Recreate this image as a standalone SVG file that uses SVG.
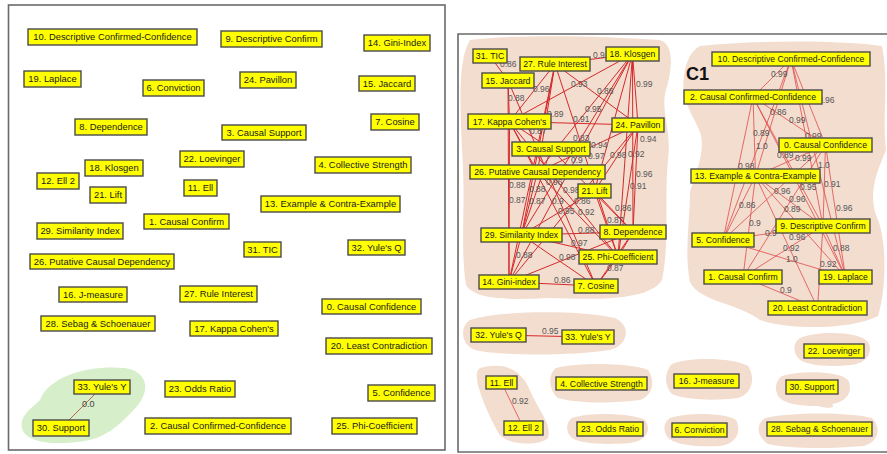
<svg xmlns="http://www.w3.org/2000/svg" width="887" height="454" viewBox="0 0 887 454">
<style>
.frame{fill:none;stroke:#6a6a6a;stroke-width:1.6}
.blob{fill:#f3ddcf}
.gblob{fill:#d6eec9}
.nb rect{fill:#ffff00;stroke:#4a4a4a;stroke-width:1.4}
.nl text{font-family:"Liberation Sans",Arial,sans-serif;font-size:9.4px;fill:#1a1a1a;text-anchor:middle}
.nr text{font-family:"Liberation Sans",Arial,sans-serif;font-size:8.7px;fill:#1a1a1a;text-anchor:middle}
.e1 line{stroke:#d42a2a;stroke-width:1}
.e2 line{stroke:#e04a4a;stroke-width:0.8}
.el text{font-family:"Liberation Sans",Arial,sans-serif;font-size:8.5px;fill:#555}
.c1{font-family:"Liberation Sans",Arial,sans-serif;font-size:18px;font-weight:bold;fill:#111}
</style>
<rect x="0" y="0" width="887" height="454" fill="#ffffff"/>
<!-- panel frames -->
<rect class="frame" x="8.5" y="5" width="436.5" height="445"/>
<path class="frame" d="M887 34 H458 V452 H887"/>
<!-- blobs -->
<path class="gblob" d="M40 400 C50 375 90 365 125 368 C148 372 150 390 138 405 C125 420 110 435 90 440 C60 446 25 444 22 428 C20 415 30 410 40 400 Z"/>
<path class="blob" d="M470 40 C520 34 600 36 660 40 C675 45 672 70 666 90 C660 110 672 130 668 160 C664 200 670 240 662 280 C650 300 600 300 550 298 C510 300 475 300 466 285 C460 250 466 200 462 150 C460 100 458 60 470 40 Z"/>
<path class="blob" d="M700 46 C760 40 840 40 882 46 C889 80 882 120 886 150 C878 170 868 190 876 215 C888 240 886 290 878 316 C850 330 790 330 760 320 C735 302 700 302 690 282 C684 252 690 222 690 192 C696 172 706 152 700 132 C694 116 680 100 684 76 C686 60 692 50 700 46 Z"/>
<path class="blob" d="M470 320 C500 310 580 310 615 318 C632 326 628 345 610 350 C570 356 500 356 475 350 C460 344 460 326 470 320 Z"/>
<path class="blob" d="M800 338 C820 330 860 332 868 342 C874 352 866 364 850 365 C830 367 805 366 798 358 C792 350 794 342 800 338 Z"/>
<path class="blob" d="M480 368 C505 362 522 368 532 395 C540 412 552 425 548 438 C540 446 508 446 499 434 C490 418 482 400 478 385 C476 376 476 370 480 368 Z"/>
<path class="blob" d="M556 368 C580 362 630 363 648 370 C656 382 652 396 640 400 C610 404 575 403 558 398 C548 390 548 374 556 368 Z"/>
<path class="blob" d="M672 364 C690 356 735 358 748 366 C756 378 752 394 738 398 C715 401 685 400 672 394 C664 386 664 372 672 364 Z"/>
<path class="blob" d="M782 376 C800 370 840 371 848 380 C854 392 846 402 832 404 C836 408 828 409 818 406 C800 406 784 404 778 396 C774 388 776 380 782 376 Z"/>
<path class="blob" d="M572 418 C590 412 630 413 645 420 C652 430 646 441 630 443 C605 445 582 444 572 438 C565 432 566 422 572 418 Z"/>
<path class="blob" d="M670 418 C690 412 725 413 736 420 C742 432 736 444 720 446 C700 447 678 446 668 438 C662 430 664 422 670 418 Z"/>
<path class="blob" d="M765 418 C790 412 850 412 872 418 C882 428 878 442 864 446 C830 449 790 449 768 444 C756 436 756 424 765 418 Z"/>
<!-- connectors -->
<g id="connectors">
<g class="e0"><line x1="102" y1="387" x2="61" y2="428" stroke="#b0583e" stroke-width="0.9"/></g>
<g class="e1">
<line x1="490" y1="56" x2="508" y2="80.5"/>
<line x1="555" y1="64" x2="632.5" y2="54"/>
<line x1="555" y1="64" x2="509.5" y2="121.5"/>
<line x1="632.5" y1="54" x2="509.5" y2="121.5"/>
<line x1="555" y1="64" x2="638" y2="125"/>
<line x1="632.5" y1="54" x2="638" y2="125"/>
<line x1="508" y1="80.5" x2="509.5" y2="121.5"/>
<line x1="632.5" y1="54" x2="537.5" y2="172"/>
<line x1="555" y1="64" x2="537.5" y2="172"/>
<line x1="509.5" y1="121.5" x2="638" y2="125"/>
<line x1="509.5" y1="121.5" x2="551" y2="149"/>
<line x1="632.5" y1="54" x2="521.5" y2="235"/>
<line x1="638" y1="125" x2="537.5" y2="172"/>
<line x1="632.5" y1="54" x2="633" y2="232"/>
<line x1="555" y1="64" x2="618" y2="257"/>
<line x1="638" y1="125" x2="594.5" y2="191"/>
<line x1="632.5" y1="54" x2="618" y2="257"/>
<line x1="638" y1="125" x2="633" y2="232"/>
<line x1="638" y1="125" x2="618" y2="257"/>
<line x1="632.5" y1="54" x2="509" y2="282"/>
<line x1="508" y1="80.5" x2="596" y2="286"/>
<line x1="509.5" y1="121.5" x2="618" y2="257"/>
<line x1="551" y1="149" x2="521.5" y2="235"/>
<line x1="509.5" y1="121.5" x2="509" y2="282"/>
<line x1="508" y1="80.5" x2="509" y2="282"/>
<line x1="537.5" y1="172" x2="521.5" y2="235"/>
<line x1="509.5" y1="121.5" x2="596" y2="286"/>
<line x1="638" y1="125" x2="509" y2="282"/>
<line x1="594.5" y1="191" x2="521.5" y2="235"/>
<line x1="537.5" y1="172" x2="618" y2="257"/>
<line x1="594.5" y1="191" x2="633" y2="232"/>
<line x1="594.5" y1="191" x2="618" y2="257"/>
<line x1="521.5" y1="235" x2="633" y2="232"/>
<line x1="521.5" y1="235" x2="618" y2="257"/>
<line x1="521.5" y1="235" x2="509" y2="282"/>
<line x1="521.5" y1="235" x2="596" y2="286"/>
<line x1="618" y1="257" x2="596" y2="286"/>
<line x1="509" y1="282" x2="596" y2="286"/>
<line x1="509" y1="282" x2="633" y2="232"/>
<line x1="509.5" y1="121.5" x2="537.5" y2="172"/>
<line x1="555" y1="64" x2="521.5" y2="235"/>
<line x1="555" y1="64" x2="509" y2="282"/>
<line x1="632.5" y1="54" x2="594.5" y2="191"/>
<line x1="551" y1="149" x2="633" y2="232"/>
<line x1="618" y1="257" x2="633" y2="232"/>
<line x1="633" y1="232" x2="596" y2="286"/>
<line x1="498" y1="335" x2="588" y2="337"/>
</g>
<g class="e2">
<line x1="791" y1="59" x2="753" y2="97"/>
<line x1="791" y1="59" x2="825.5" y2="145"/>
<line x1="791" y1="59" x2="755.5" y2="176"/>
<line x1="753" y1="97" x2="825.5" y2="145"/>
<line x1="753" y1="97" x2="755.5" y2="176"/>
<line x1="791" y1="59" x2="723" y2="240"/>
<line x1="791" y1="59" x2="823" y2="226"/>
<line x1="825.5" y1="145" x2="755.5" y2="176"/>
<line x1="753" y1="97" x2="823" y2="226"/>
<line x1="791" y1="59" x2="845.5" y2="277"/>
<line x1="753" y1="97" x2="723" y2="240"/>
<line x1="825.5" y1="145" x2="823" y2="226"/>
<line x1="753" y1="97" x2="845.5" y2="277"/>
<line x1="825.5" y1="145" x2="723" y2="240"/>
<line x1="755.5" y1="176" x2="823" y2="226"/>
<line x1="755.5" y1="176" x2="723" y2="240"/>
<line x1="825.5" y1="145" x2="743" y2="277"/>
<line x1="825.5" y1="145" x2="845.5" y2="277"/>
<line x1="755.5" y1="176" x2="743" y2="277"/>
<line x1="723" y1="240" x2="823" y2="226"/>
<line x1="755.5" y1="176" x2="817.5" y2="308"/>
<line x1="823" y1="226" x2="743" y2="277"/>
<line x1="723" y1="240" x2="845.5" y2="277"/>
<line x1="823" y1="226" x2="845.5" y2="277"/>
<line x1="823" y1="226" x2="817.5" y2="308"/>
<line x1="743" y1="277" x2="817.5" y2="308"/>
<line x1="755.5" y1="176" x2="845.5" y2="277"/>
<line x1="501.5" y1="382.5" x2="523.5" y2="428"/>
</g>
<g class="el">
<text x="82" y="407" style="font-size:9px;fill:#444">0.0</text>
<text x="500" y="67">0.86</text>
<text x="593" y="58">0.9</text>
<text x="533" y="92">0.96</text>
<text x="571" y="87">0.93</text>
<text x="597" y="94">0.86</text>
<text x="636" y="87">0.99</text>
<text x="508" y="101">0.88</text>
<text x="585" y="112">0.95</text>
<text x="547" y="117">0.89</text>
<text x="573" y="122">0.91</text>
<text x="530" y="134">0.87</text>
<text x="573" y="141">0.83</text>
<text x="591" y="148">0.94</text>
<text x="640" y="142">0.94</text>
<text x="588" y="159">0.97</text>
<text x="610" y="158">0.98</text>
<text x="628" y="157">0.92</text>
<text x="636" y="177">0.96</text>
<text x="630" y="189">0.91</text>
<text x="571" y="163">0.9</text>
<text x="546" y="185">0.96</text>
<text x="563" y="193">0.98</text>
<text x="529" y="192">0.88</text>
<text x="509" y="203">0.87</text>
<text x="509" y="188">0.88</text>
<text x="529" y="204">0.87</text>
<text x="552" y="204">0.9</text>
<text x="574" y="204">0.86</text>
<text x="558" y="214">0.95</text>
<text x="578" y="215">0.92</text>
<text x="615" y="211">0.86</text>
<text x="607" y="223">0.87</text>
<text x="578" y="233">0.88</text>
<text x="571" y="246">0.97</text>
<text x="516" y="258">0.88</text>
<text x="559" y="260">0.98</text>
<text x="607" y="271">0.87</text>
<text x="554" y="283">0.86</text>
<text x="542" y="334">0.95</text>
<text x="512" y="404">0.92</text>
<text x="771" y="77">0.99</text>
<text x="818" y="103">0.96</text>
<text x="770" y="115">0.86</text>
<text x="789" y="123">0.99</text>
<text x="753" y="136">0.89</text>
<text x="756" y="149">1.0</text>
<text x="805" y="139">0.99</text>
<text x="777" y="158">0.89</text>
<text x="795" y="161">0.99</text>
<text x="818" y="168">1.0</text>
<text x="738" y="169">0.98</text>
<text x="824" y="187">0.91</text>
<text x="800" y="190">0.95</text>
<text x="774" y="194">0.96</text>
<text x="789" y="202">0.96</text>
<text x="739" y="208">0.86</text>
<text x="784" y="212">0.89</text>
<text x="836" y="211">0.96</text>
<text x="749" y="226">0.9</text>
<text x="765" y="236">0.9</text>
<text x="789" y="240">0.96</text>
<text x="783" y="251">0.92</text>
<text x="786" y="262">1.0</text>
<text x="833" y="251">0.88</text>
<text x="820" y="267">0.92</text>
<text x="780" y="293">0.9</text>
</g>
</g>
<!-- left panel nodes -->
<g class="nb nl">
<g id="L10"><rect x="28" y="29" width="169" height="16"/><text x="112.5" y="40.3">10. Descriptive Confirmed-Confidence</text></g>
<g id="L9"><rect x="221" y="31" width="101" height="16"/><text x="271.5" y="42.3">9. Descriptive Confirm</text></g>
<g id="L14"><rect x="364" y="35" width="66" height="16"/><text x="397" y="46.3">14. Gini-Index</text></g>
<g id="L19"><rect x="24" y="71" width="57" height="16"/><text x="52.5" y="82.3">19. Laplace</text></g>
<g id="L6"><rect x="143" y="80" width="61" height="16"/><text x="173.5" y="91.3">6. Conviction</text></g>
<g id="L24"><rect x="240" y="72" width="56" height="16"/><text x="268" y="83.3">24. Pavillon</text></g>
<g id="L15"><rect x="359" y="76" width="56" height="15"/><text x="387" y="86.8">15. Jaccard</text></g>
<g id="L8"><rect x="75" y="119" width="72" height="16"/><text x="111" y="130.3">8. Dependence</text></g>
<g id="L3"><rect x="222" y="125" width="84" height="15"/><text x="264" y="135.8">3. Causal Support</text></g>
<g id="L7"><rect x="371" y="114" width="48" height="16"/><text x="395" y="125.3">7. Cosine</text></g>
<g id="L22"><rect x="180" y="151" width="64" height="16"/><text x="212" y="162.3">22. Loevinger</text></g>
<g id="L4"><rect x="315" y="157" width="96" height="16"/><text x="363" y="168.3">4. Collective Strength</text></g>
<g id="L18"><rect x="85" y="160" width="58" height="16"/><text x="114" y="171.3">18. Klosgen</text></g>
<g id="L12"><rect x="37" y="173" width="42" height="16"/><text x="58" y="184.3">12. Ell 2</text></g>
<g id="L21"><rect x="90" y="187" width="36" height="16"/><text x="108" y="198.3">21. Lift</text></g>
<g id="L11"><rect x="184" y="180" width="33" height="16"/><text x="200.5" y="191.3">11. Ell</text></g>
<g id="L13"><rect x="261" y="196" width="139" height="16"/><text x="330.5" y="207.3">13. Example &amp; Contra-Example</text></g>
<g id="L1"><rect x="144" y="214" width="85" height="15"/><text x="186.5" y="224.8">1. Causal Confirm</text></g>
<g id="L29"><rect x="37" y="223" width="86" height="16"/><text x="80" y="234.3">29. Similarity Index</text></g>
<g id="L31"><rect x="244" y="242" width="37" height="15"/><text x="262.5" y="252.8">31. TIC</text></g>
<g id="L32"><rect x="348" y="240" width="57" height="15"/><text x="376.5" y="250.8">32. Yule's Q</text></g>
<g id="L26"><rect x="30" y="254" width="144" height="15"/><text x="102" y="264.8">26. Putative Causal Dependency</text></g>
<g id="L16"><rect x="59" y="287" width="68" height="15"/><text x="93" y="297.8">16. J-measure</text></g>
<g id="L27"><rect x="180" y="286" width="77" height="16"/><text x="218.5" y="297.3">27. Rule Interest</text></g>
<g id="L0"><rect x="322" y="299" width="99" height="15"/><text x="371.5" y="309.8">0. Causal Confidence</text></g>
<g id="L28"><rect x="41" y="316" width="114" height="15"/><text x="98" y="326.8">28. Sebag &amp; Schoenauer</text></g>
<g id="L17"><rect x="190" y="321" width="88" height="15"/><text x="234" y="331.8">17. Kappa Cohen's</text></g>
<g id="L20"><rect x="326" y="338" width="106" height="16"/><text x="379" y="349.3">20. Least Contradiction</text></g>
<g id="L33"><rect x="74" y="380" width="56" height="14"/><text x="102" y="390.3">33. Yule's Y</text></g>
<g id="L23"><rect x="165" y="381" width="70" height="16"/><text x="200" y="392.3">23. Odds Ratio</text></g>
<g id="L5"><rect x="368" y="385" width="67" height="16"/><text x="401.5" y="396.3">5. Confidence</text></g>
<g id="L30"><rect x="33" y="420" width="56" height="16"/><text x="61" y="431.3">30. Support</text></g>
<g id="L2"><rect x="145" y="418" width="146" height="16"/><text x="218" y="429.3">2. Causal Confirmed-Confidence</text></g>
<g id="L25"><rect x="332" y="418" width="85" height="16"/><text x="374.5" y="429.3">25. Phi-Coefficient</text></g>
</g>
<!-- right panel nodes -->
<g class="nb nr">
<g id="R31"><rect x="473" y="49" width="34" height="14"/><text x="490" y="59">31. TIC</text></g>
<g id="R27"><rect x="520" y="57" width="70" height="14"/><text x="555" y="67">27. Rule Interest</text></g>
<g id="R18"><rect x="606" y="47" width="53" height="14"/><text x="632.5" y="57">18. Klosgen</text></g>
<g id="R15"><rect x="482" y="73" width="52" height="15"/><text x="508" y="83.5">15. Jaccard</text></g>
<g id="R17"><rect x="468" y="114" width="83" height="15"/><text x="509.5" y="124.5">17. Kappa Cohen's</text></g>
<g id="R24"><rect x="612" y="118" width="52" height="14"/><text x="638" y="128">24. Pavillon</text></g>
<g id="R3"><rect x="512" y="142" width="78" height="14"/><text x="551" y="152">3. Causal Support</text></g>
<g id="R26"><rect x="470" y="165" width="135" height="14"/><text x="537.5" y="175">26. Putative Causal Dependency</text></g>
<g id="R21"><rect x="578" y="184" width="33" height="14"/><text x="594.5" y="194">21. Lift</text></g>
<g id="R29"><rect x="481" y="228" width="81" height="14"/><text x="521.5" y="238">29. Similarity Index</text></g>
<g id="R8"><rect x="600" y="225" width="66" height="14"/><text x="633" y="235">8. Dependence</text></g>
<g id="R25"><rect x="579" y="250" width="78" height="14"/><text x="618" y="260">25. Phi-Coefficient</text></g>
<g id="R14"><rect x="479" y="275" width="60" height="14"/><text x="509" y="285">14. Gini-index</text></g>
<g id="R7"><rect x="574" y="279" width="44" height="14"/><text x="596" y="289">7. Cosine</text></g>
<g id="R10"><rect x="712" y="52" width="158" height="14"/><text x="791" y="62">10. Descriptive Confirmed-Confidence</text></g>
<g id="R2"><rect x="684" y="90" width="138" height="14"/><text x="753" y="100">2. Causal Confirmed-Confidence</text></g>
<g id="R0"><rect x="779" y="138" width="93" height="14"/><text x="825.5" y="148">0. Causal Confidence</text></g>
<g id="R13"><rect x="691" y="169" width="129" height="14"/><text x="755.5" y="179">13. Example &amp; Contra-Example</text></g>
<g id="R9"><rect x="776" y="219" width="94" height="14"/><text x="823" y="229">9. Descriptive Confirm</text></g>
<g id="R5"><rect x="692" y="233" width="62" height="14"/><text x="723" y="243">5. Confidence</text></g>
<g id="R1"><rect x="704" y="270" width="78" height="14"/><text x="743" y="280">1. Causal Confirm</text></g>
<g id="R19"><rect x="819" y="270" width="53" height="14"/><text x="845.5" y="280">19. Laplace</text></g>
<g id="R20"><rect x="768" y="301" width="99" height="14"/><text x="817.5" y="311">20. Least Contradiction</text></g>
<g id="R32"><rect x="471" y="328" width="55" height="14"/><text x="498.5" y="338">32. Yule's Q</text></g>
<g id="R33"><rect x="562" y="330" width="52" height="14"/><text x="588" y="340">33. Yule's Y</text></g>
<g id="R22"><rect x="804" y="344" width="60" height="14"/><text x="834" y="354">22. Loevinger</text></g>
<g id="R11"><rect x="486" y="376" width="31" height="13"/><text x="501.5" y="385.5">11. Ell</text></g>
<g id="R4"><rect x="556" y="377" width="91" height="13"/><text x="601.5" y="386.5">4. Collective Strength</text></g>
<g id="R16"><rect x="674" y="374" width="65" height="14"/><text x="706.5" y="384">16. J-measure</text></g>
<g id="R30"><rect x="786" y="380" width="52" height="14"/><text x="812" y="390">30. Support</text></g>
<g id="R12"><rect x="504" y="421" width="39" height="14"/><text x="523.5" y="431">12. Ell 2</text></g>
<g id="R23"><rect x="577" y="422" width="66" height="14"/><text x="610" y="432">23. Odds Ratio</text></g>
<g id="R6"><rect x="672" y="423" width="55" height="14"/><text x="699.5" y="433">6. Conviction</text></g>
<g id="R28"><rect x="767" y="422" width="105" height="14"/><text x="819.5" y="432">28. Sebag &amp; Schoenauer</text></g>
</g>
<text class="c1" x="686" y="80">C1</text>
</svg>
